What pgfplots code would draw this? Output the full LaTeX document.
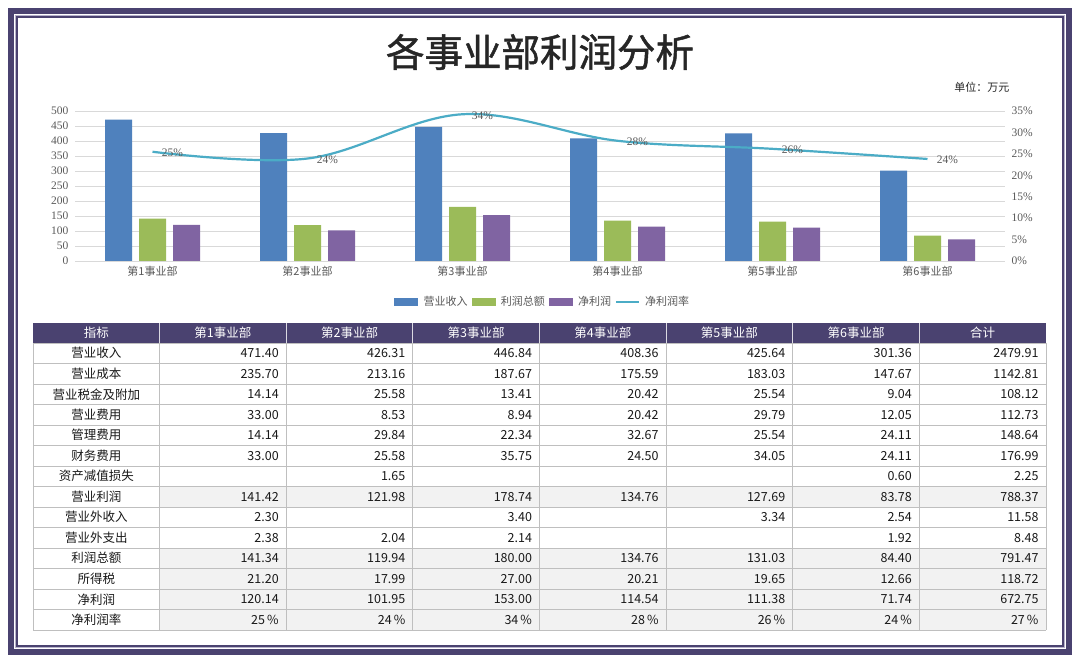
\documentclass[border=0pt]{standalone}
\usepackage{fontspec}
\setmainfont{Liberation Serif}
\newfontfamily\cjk{Noto Sans CJK SC}
\newfontfamily\cjkt{Noto Sans CJK SC}[FakeBold=1.2]
\usepackage{pgfplots}
\pgfplotsset{compat=1.18}
\definecolor{frame}{HTML}{4A4270}
\definecolor{framelight}{HTML}{B8B3CC}
\definecolor{cblue}{HTML}{4F81BD}
\definecolor{cgreen}{HTML}{9BBB59}
\definecolor{cpurple}{HTML}{8064A2}
\definecolor{cteal}{HTML}{4BACC6}
\definecolor{tickgray}{HTML}{595959}
\definecolor{gridgray}{HTML}{D9D9D9}
\definecolor{rowgray}{HTML}{F2F2F2}
\definecolor{tblline}{HTML}{BFBFBF}
\newcommand\tbl{\cjk\fontsize{12.5}{14}\selectfont}
\begin{document}
\begin{tikzpicture}[x=1pt,y=1pt]
\useasboundingbox (0,0) rectangle (1080,663);
\fill[white] (0,0) rectangle (1080,663);
% frame
\draw[frame, line width=6pt] (11,11) rectangle (1069,652);
\draw[framelight, line width=1.2pt] (15.2,15.2) rectangle (1064.8,647.8);
\draw[frame, line width=2pt] (17.3,17.3) rectangle (1062.7,645.7);
% title
\node[font=\cjkt\fontsize{38.5}{42}\selectfont, text=black!85] at (540,611) {各事业部利润分析};
\node[anchor=east, font=\cjk\fontsize{11}{13}\selectfont, text=black!85] at (1013,576) {单位：万元};

% bars
\begin{axis}[at={(75pt,402pt)}, anchor=south west, scale only axis,
  width=930pt, height=150pt, xmin=-0.5, xmax=5.5, ymin=0, ymax=500,
  ybar, bar width=27pt, axis line style={draw=none},
  ymajorgrids, grid style={gridgray, line width=0.8pt},
  major tick length=0pt, ytick={0,50,...,500}, xtick={0,...,5},
  xticklabels={第1事业部,第2事业部,第3事业部,第4事业部,第5事业部,第6事业部},
  xticklabel style={font=\cjk\fontsize{11}{13}\selectfont, text=tickgray, yshift=-2pt},
  yticklabel style={font=\fontsize{11.5}{13}\selectfont, text=tickgray, xshift=-3pt},
  /pgf/number format/assume math mode=true, clip=false]
\addplot[fill=cblue, draw=none, bar shift=-34pt] coordinates {(0,471.40)(1,426.31)(2,446.84)(3,408.36)(4,425.64)(5,301.36)};
\addplot[fill=cgreen, draw=none, bar shift=0pt] coordinates {(0,141.34)(1,119.94)(2,180.00)(3,134.76)(4,131.03)(5,84.40)};
\addplot[fill=cpurple, draw=none, bar shift=34pt] coordinates {(0,120.14)(1,101.95)(2,153.00)(3,114.54)(4,111.38)(5,71.74)};
\end{axis}

% line
\begin{axis}[at={(75pt,402pt)}, anchor=south west, scale only axis,
  width=930pt, height=150pt, xmin=-0.5, xmax=5.5, ymin=0, ymax=35,
  axis y line*=right, axis x line=none, axis line style={draw=none},
  major tick length=0pt, ytick={0,5,...,35},
  yticklabels={0\%,5\%,10\%,15\%,20\%,25\%,30\%,35\%},
  yticklabel style={font=\fontsize{11.5}{13}\selectfont, text=tickgray, xshift=3pt},
  clip=false,
  legend columns=4,
  legend style={draw=none, fill=none, at={(0.503,-0.273)}, anchor=center,
    font=\cjk\fontsize{11}{13}\selectfont, text=tickgray,
    /tikz/every even column/.append style={column sep=2pt}},
  legend entries={营业收入,利润总额,净利润,净利润率}]
\addlegendimage{legend image code/.code={\path[draw=none,fill=none] (0pt,-3.5pt) rectangle (27pt,3.5pt);\fill[cblue] (0pt,-3.5pt) rectangle (23pt,3.5pt);}}
\addlegendimage{legend image code/.code={\path[draw=none,fill=none] (0pt,-3.5pt) rectangle (27pt,3.5pt);\fill[cgreen] (0pt,-3.5pt) rectangle (23pt,3.5pt);}}
\addlegendimage{legend image code/.code={\path[draw=none,fill=none] (0pt,-3.5pt) rectangle (27pt,3.5pt);\fill[cpurple] (0pt,-3.5pt) rectangle (23pt,3.5pt);}}
\addplot[cteal, line width=2.2pt, smooth, tension=0.6, mark=none,
  point meta=explicit symbolic, nodes near coords,
  nodes near coords style={anchor=west, xshift=5pt, yshift=-1pt, font=\fontsize{11.5}{13}\selectfont, text=tickgray},
  legend image code/.code={\path[draw=none,fill=none] (0pt,-3.5pt) rectangle (27pt,3.5pt);\draw[cteal, line width=2.2pt] (0pt,0pt)--(23pt,0pt);}]
 coordinates {(0,25.49)[25\%] (1,23.91)[24\%] (2,34.24)[34\%] (3,28.05)[28\%] (4,26.17)[26\%] (5,23.81)[24\%]};
\end{axis}

% table
\foreach \r in {7,10,11,12,13}
  \fill[rowgray] (159.625,{320-20.5*\r}) rectangle (1046,{320-20.5*(\r+1)});
\foreach \r in {0,...,14}
  \draw[tblline, line width=0.8pt] (33,{320-20.5*\r}) -- (1046,{320-20.5*\r});
\foreach \k in {0,...,8}
  \draw[tblline, line width=0.8pt] ({33+126.625*\k},320) -- ({33+126.625*\k},33);
\fill[frame] (33,320) rectangle (1046,340);
\foreach \k in {1,...,7}
  \draw[white!80!frame, line width=0.8pt] ({33+126.625*\k},320) -- ({33+126.625*\k},340);
\foreach \h [count=\i from 0] in {指标,第1事业部,第2事业部,第3事业部,第4事业部,第5事业部,第6事业部,合计}
  \node[text=white, font=\tbl] at ({33+126.625*(\i+0.5)},330) {\h};
\foreach \n/\a/\b/\c/\d/\e/\f/\g [count=\r from 0] in {
  营业收入/471.40/426.31/446.84/408.36/425.64/301.36/2479.91,
  营业成本/235.70/213.16/187.67/175.59/183.03/147.67/1142.81,
  营业税金及附加/14.14/25.58/13.41/20.42/25.54/9.04/108.12,
  营业费用/33.00/8.53/8.94/20.42/29.79/12.05/112.73,
  管理费用/14.14/29.84/22.34/32.67/25.54/24.11/148.64,
  财务费用/33.00/25.58/35.75/24.50/34.05/24.11/176.99,
  资产减值损失/{}/1.65/{}/{}/{}/0.60/2.25,
  营业利润/141.42/121.98/178.74/134.76/127.69/83.78/788.37,
  营业外收入/2.30/{}/3.40/{}/3.34/2.54/11.58,
  营业外支出/2.38/2.04/2.14/{}/{}/1.92/8.48,
  利润总额/141.34/119.94/180.00/134.76/131.03/84.40/791.47,
  所得税/21.20/17.99/27.00/20.21/19.65/12.66/118.72,
  净利润/120.14/101.95/153.00/114.54/111.38/71.74/672.75,
  净利润率/25\,\%/24\,\%/34\,\%/28\,\%/26\,\%/24\,\%/27\,\%}
{
  \pgfmathsetmacro\yc{320-20.5*(\r+0.5)}
  \node[font=\tbl, text=black!90] at (96.3,\yc) {\n};
  \foreach \v [count=\k from 1] in {\a,\b,\c,\d,\e,\f,\g}
    \node[anchor=east, font=\tbl, text=black!90] at ({33+126.625*(\k+1)-4},\yc) {\v};
}
\end{tikzpicture}
\end{document}
